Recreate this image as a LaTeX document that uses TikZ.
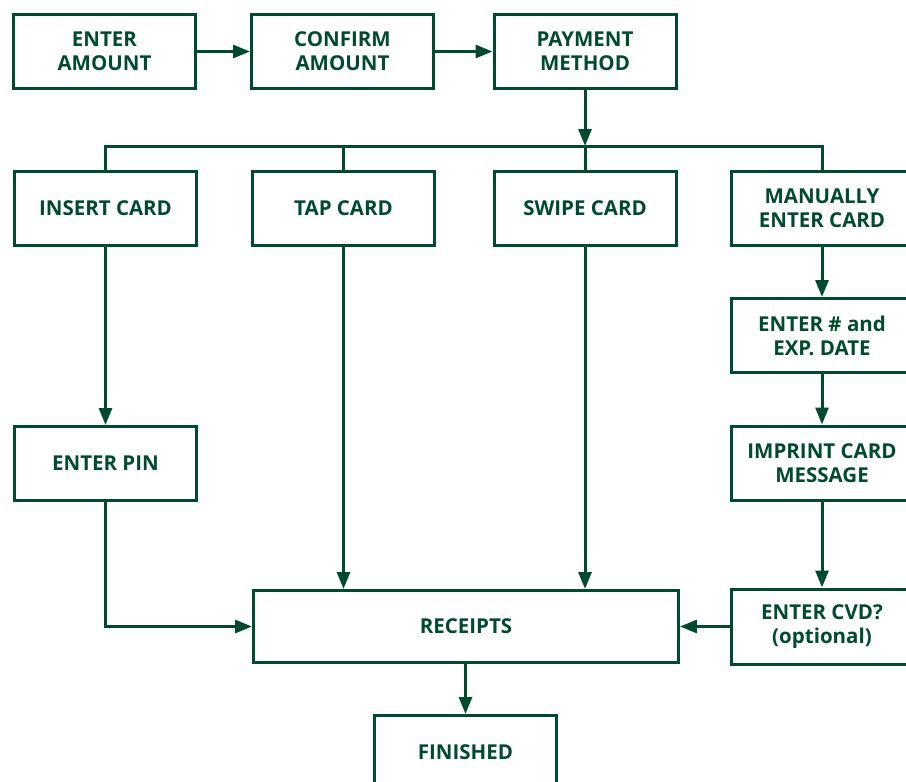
\documentclass[tikz,border=0pt]{standalone}
\usepackage{fontspec}
\setmainfont{Open Sans}
\usetikzlibrary{arrows.meta}
\definecolor{dg}{RGB}{0,75,45}
\tikzset{
  box/.style={draw=dg, line width=3pt, fill=white, text=dg, font=\bfseries\fontsize{20.5}{24}\selectfont,
    align=center, minimum width=182pt, minimum height=74pt, inner sep=0pt},
  conn/.style={draw=dg, line width=3pt},
  arr/.style={conn, -{Triangle[length=17pt,width=13pt]}}
}
\begin{document}
\begin{tikzpicture}[x=1pt,y=-1pt]
\path[use as bounding box] (0,0) rectangle (906,782);
\node[box] (ea) at (104.5,51.5) {ENTER\\AMOUNT};
\node[box] (ca) at (342.5,51.5) {CONFIRM\\AMOUNT};
\node[box] (pm) at (585,51.5) {PAYMENT\\METHOD};
\node[box] (ic) at (105.5,208.5) {INSERT CARD};
\node[box] (tc) at (343.5,208.5) {TAP CARD};
\node[box] (sc) at (585,208.5) {SWIPE CARD};
\node[box] (me) at (822,208.5) {MANUALLY\\ENTER CARD};
\node[box] (en) at (822,335.5) {ENTER \# and\\EXP. DATE};
\node[box] (im) at (822,463) {IMPRINT CARD\\MESSAGE};
\node[box] (ep) at (105.5,463.5) {ENTER PIN};
\node[box, minimum height=75pt] (cvd) at (822,626.5) {ENTER CVD?\\(optional)};
\node[box, minimum width=425pt, minimum height=72pt] (rc) at (466,626.5) {RECEIPTS};
\node[box] (fn) at (465.5,752.5) {FINISHED};
\coordinate (bus) at (585,146);
\draw[arr] (ea) -- (ca);
\draw[arr] (ca) -- (pm);
\draw[arr] (pm.south) -- (bus);
\draw[conn] (ic.north) |- (bus) -| (me.north);
\draw[conn] (tc.north) -- (tc.north |- bus);
\draw[conn] (sc.north) -- (bus);
\draw[arr] (ic) -- (ep);
\draw[arr] (me) -- (en);
\draw[arr] (en) -- (im);
\draw[arr] (im) -- (cvd);
\draw[arr] (tc.south) -- (tc.south |- rc.north);
\draw[arr] (sc.south) -- (sc.south |- rc.north);
\draw[arr] (ep.south) |- (rc.west);
\draw[arr] (cvd.west) -- (rc.east);
\draw[arr] (rc.south -| fn.north) -- (fn.north);
\end{tikzpicture}
\end{document}
